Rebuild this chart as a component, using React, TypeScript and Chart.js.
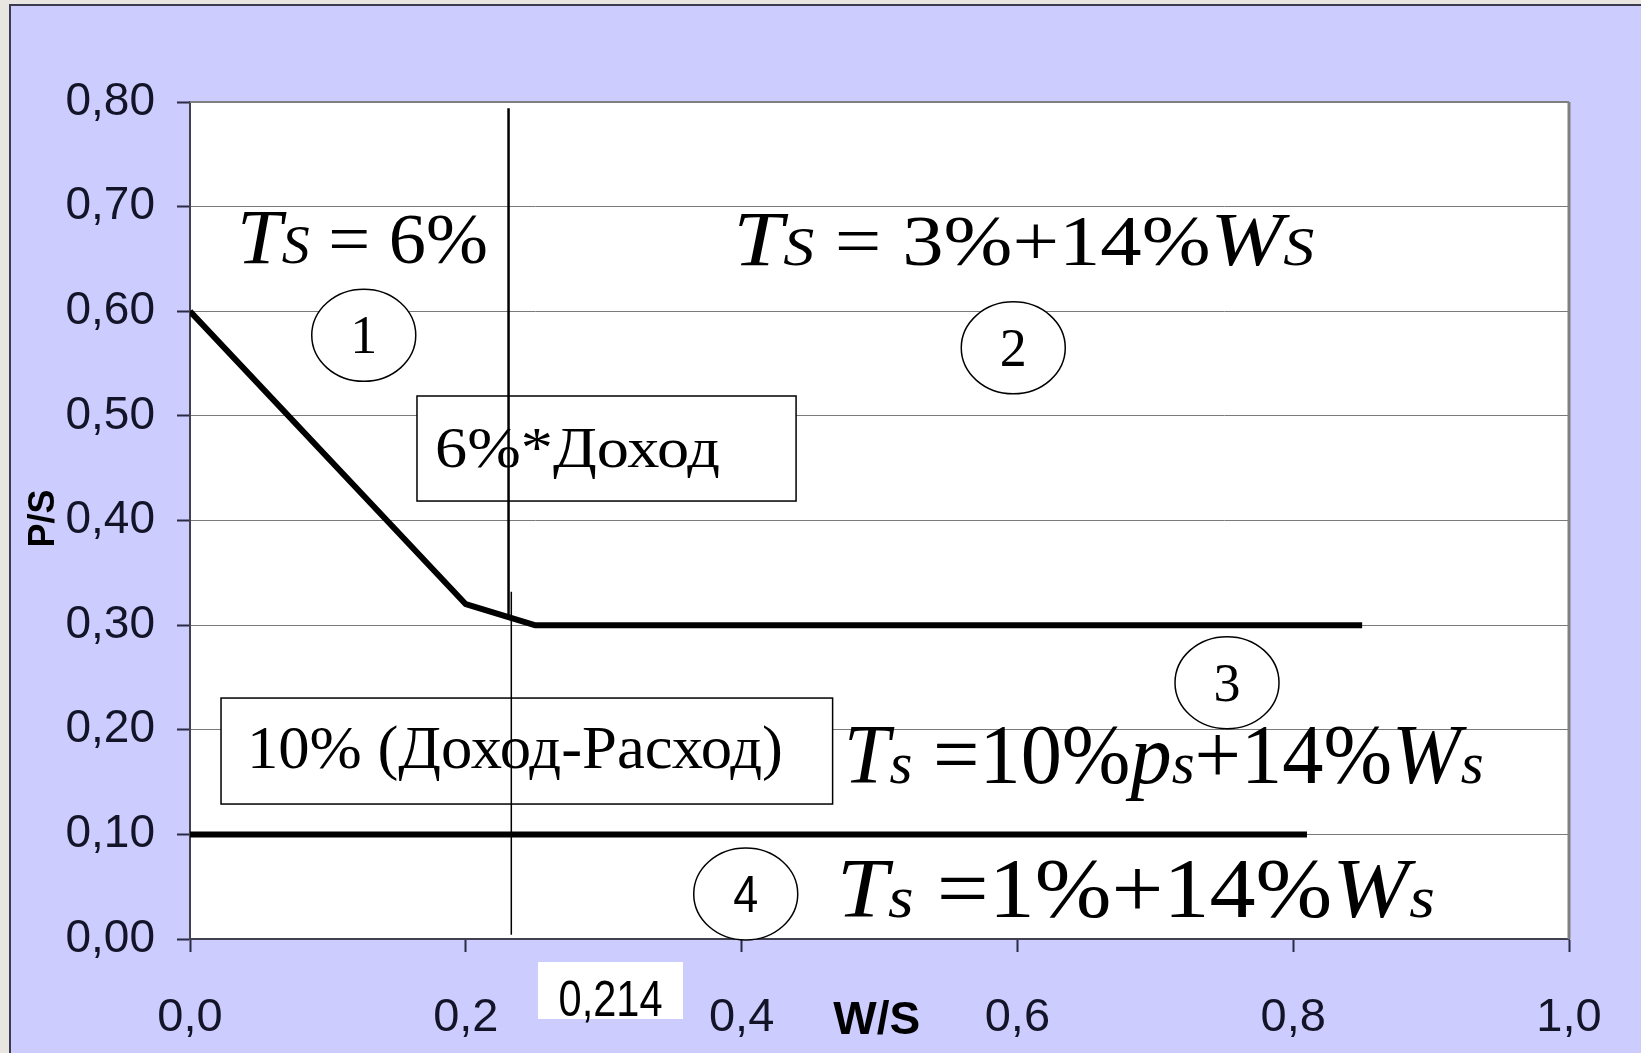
import React, { useEffect, useRef } from 'react';
import { Chart, registerables } from 'chart.js';

Chart.register(...registerables);

// ---------- data ----------
const xTickValues = [0, 0.2, 0.4, 0.6, 0.8, 1.0];
const yTickValues = [0, 0.1, 0.2, 0.3, 0.4, 0.5, 0.6, 0.7, 0.8];

// upper boundary (thick polyline)
const boundaryX = [0, 0.2, 0.25, 0.85];
const boundaryY = [0.6, 0.32, 0.3, 0.3];

// lower boundary (thick horizontal)
const floorX = [0, 0.81];
const floorY = [0.1, 0.1];

// vertical split line (two strokes)
const splitUpperX = [0.231, 0.231];
const splitUpperY = [0.794, 0.306];
const splitLowerX = [0.233, 0.233];
const splitLowerY = [0.332, 0.004];

// zone markers
const zoneLabels = ['1', '2', '3', '4'];
const zoneX = [0.126, 0.597, 0.752, 0.403];
const zoneY = [0.577, 0.565, 0.245, 0.043];

// boxed captions
const boxLabels = ['6%*Доход', '10% (Доход-Расход)'];

const markerLabel = '0,214';
const xTitle = 'W/S';
const yTitle = 'P/S';

// ---------- annotation layout (data units) ----------
const boxLayout = [
  { x0: 0.1646, x1: 0.4395, yTop: 0.519, yBot: 0.4186, tx: 0.1777, ty: 0.451, size: 56, w: 285 },
  { x0: 0.0225, x1: 0.466, yTop: 0.2303, yBot: 0.129, tx: 0.0413, ty: 0.1634, size: 62, w: 536 },
];

type Seg = [string, 'i' | 'n', number];
const equations: { x: number; y: number; base: number; w: number; segs: Seg[] }[] = [
  { x: 0.034, y: 0.646, base: 72, w: 251, segs: [['T', 'i', 1.08], ['S', 'i', 0.75], [' = 6%', 'n', 1]] },
  { x: 0.394, y: 0.644, base: 72, w: 581, segs: [['T', 'i', 1.08], ['S', 'i', 0.75], [' = 3%+14%', 'n', 1], ['W', 'i', 1.05], ['S', 'i', 0.75]] },
  { x: 0.474, y: 0.149, base: 84, w: 640, segs: [['T', 'i', 1], ['s', 'i', 0.72], [' =10%', 'n', 1], ['p', 'i', 1], ['s', 'i', 0.72], ['+14%', 'n', 1], ['W', 'i', 1], ['s', 'i', 0.72]] },
  { x: 0.469, y: 0.021, base: 84, w: 598, segs: [['T', 'i', 1], ['s', 'i', 0.72], [' =1%+14%', 'n', 1], ['W', 'i', 1], ['s', 'i', 0.72]] },
];

const SERIF = '"Liberation Serif", "Times New Roman", serif';
const SANS = '"Liberation Sans", Arial, sans-serif';

function drawRich(ctx: CanvasRenderingContext2D, segs: Seg[], x: number, y: number, base: number, targetW: number) {
  ctx.save();
  ctx.textAlign = 'left';
  ctx.textBaseline = 'alphabetic';
  ctx.fillStyle = '#000';
  const fontOf = (st: string, sc: number) => `${st === 'i' ? 'italic ' : ''}${Math.round(base * sc)}px ${SERIF}`;
  let total = 0;
  const widths = segs.map(([t, st, sc]) => {
    ctx.font = fontOf(st, sc);
    const w = ctx.measureText(t).width;
    total += w;
    return w;
  });
  const sx = targetW / total;
  ctx.translate(x, y);
  ctx.scale(sx, 1);
  let cx = 0;
  segs.forEach(([t, st, sc], i) => {
    ctx.font = fontOf(st, sc);
    ctx.fillText(t, cx, 0);
    cx += widths[i];
  });
  ctx.restore();
}

function drawFit(ctx: CanvasRenderingContext2D, text: string, x: number, y: number, font: string, targetW: number, align: 'left' | 'center') {
  ctx.save();
  ctx.font = font;
  ctx.textBaseline = 'alphabetic';
  ctx.textAlign = 'left';
  const w = ctx.measureText(text).width;
  const sx = targetW / w;
  const startX = align === 'center' ? x - targetW / 2 : x;
  ctx.translate(startX, y);
  ctx.scale(sx, 1);
  ctx.fillText(text, 0, 0);
  ctx.restore();
}

const decorPlugin = {
  id: 'decor',
  beforeDraw(chart: any) {
    const { ctx, chartArea: a, width, height } = chart;
    ctx.save();
    ctx.fillStyle = '#e9e6e1';
    ctx.fillRect(0, 0, width, height);
    ctx.fillStyle = '#3c3c50';
    ctx.fillRect(9, 4, width - 9, height - 4);
    ctx.fillStyle = '#ccccff';
    ctx.fillRect(11, 6, width - 11, height - 6);
    ctx.fillStyle = '#ffffff';
    ctx.fillRect(a.left, a.top, a.right - a.left, a.bottom - a.top);
    ctx.restore();
  },
  beforeDatasetsDraw(chart: any) {
    const { ctx, chartArea: a, scales } = chart;
    const xs = scales.x, ys = scales.y;
    ctx.save();
    // plot frame top/right
    ctx.strokeStyle = '#808080';
    ctx.lineWidth = 2;
    ctx.beginPath();
    ctx.moveTo(a.left, a.top);
    ctx.lineTo(a.right, a.top);
    ctx.stroke();
    ctx.lineWidth = 3;
    ctx.beginPath();
    ctx.moveTo(a.right, a.top);
    ctx.lineTo(a.right, a.bottom);
    ctx.stroke();
    // boxes
    boxLayout.forEach((b, i) => {
      const l = xs.getPixelForValue(b.x0), r = xs.getPixelForValue(b.x1);
      const t = ys.getPixelForValue(b.yTop), bt = ys.getPixelForValue(b.yBot);
      ctx.fillStyle = '#fff';
      ctx.fillRect(l, t, r - l, bt - t);
      ctx.strokeStyle = '#000';
      ctx.lineWidth = 1.5;
      ctx.strokeRect(l, t, r - l, bt - t);
      ctx.fillStyle = '#000';
      drawFit(ctx, boxLabels[i], xs.getPixelForValue(b.tx), ys.getPixelForValue(b.ty), `${b.size}px ${SERIF}`, b.w, 'left');
    });
    ctx.restore();
  },
  afterDatasetsDraw(chart: any) {
    const { ctx, scales } = chart;
    const xs = scales.x, ys = scales.y;
    ctx.save();
    equations.forEach((e) => {
      drawRich(ctx, e.segs, xs.getPixelForValue(e.x), ys.getPixelForValue(e.y), e.base, e.w);
    });
    zoneLabels.forEach((lab, i) => {
      const cx = xs.getPixelForValue(zoneX[i]);
      const cy = ys.getPixelForValue(zoneY[i]);
      ctx.beginPath();
      ctx.ellipse(cx, cy, 52, 46, 0, 0, Math.PI * 2);
      ctx.fillStyle = '#fff';
      ctx.fill();
      ctx.strokeStyle = '#000';
      ctx.lineWidth = 1.5;
      ctx.stroke();
      ctx.fillStyle = '#000';
      if (i === 3) {
        drawFit(ctx, lab, cx, cy + 18, `52px ${SANS}`, 25, 'center');
      } else {
        ctx.textAlign = 'center';
        ctx.textBaseline = 'alphabetic';
        ctx.font = `54px ${SERIF}`;
        ctx.fillText(lab, cx, cy + 18);
      }
    });
    ctx.restore();
  },
  afterDraw(chart: any) {
    const { ctx, chartArea: a, scales } = chart;
    const xs = scales.x;
    ctx.save();
    // marker label under axis
    const l = xs.getPixelForValue(0.2524), r = xs.getPixelForValue(0.3575);
    ctx.fillStyle = '#fff';
    ctx.fillRect(l, a.bottom + 23, r - l, 57);
    ctx.fillStyle = '#000';
    drawFit(ctx, markerLabel, (l + r) / 2, a.bottom + 77, `50px ${SANS}`, 104, 'center');
    // axis titles
    ctx.fillStyle = '#000';
    ctx.font = `bold 46px ${SANS}`;
    ctx.textAlign = 'center';
    ctx.textBaseline = 'middle';
    ctx.fillText(xTitle, xs.getPixelForValue(0.498), a.bottom + 82);
    ctx.save();
    ctx.translate(44, (a.top + a.bottom) / 2 - 2);
    ctx.rotate(-Math.PI / 2);
    ctx.font = `bold 36px ${SANS}`;
    ctx.fillText(yTitle, 0, 0);
    ctx.restore();
    ctx.restore();
  },
};

const toPts = (xs: number[], ys: number[]) => xs.map((x, i) => ({ x, y: ys[i] }));

export default function App() {
  const ref = useRef<HTMLCanvasElement | null>(null);
  useEffect(() => {
    if (!ref.current) return;
    const tickColor = '#141428';
    const chart = new Chart(ref.current, {
      type: 'scatter',
      data: {
        datasets: [
          { data: toPts(floorX, floorY), borderColor: '#000', borderWidth: 6, showLine: true, pointRadius: 0, borderCapStyle: 'butt' },
          { data: toPts(boundaryX, boundaryY), borderColor: '#000', borderWidth: 6, showLine: true, pointRadius: 0, borderCapStyle: 'butt', borderJoinStyle: 'round' },
          { data: toPts(splitUpperX, splitUpperY), borderColor: '#000', borderWidth: 2.5, showLine: true, pointRadius: 0 },
          { data: toPts(splitLowerX, splitLowerY), borderColor: '#000', borderWidth: 1.5, showLine: true, pointRadius: 0 },
        ],
      } as any,
      options: {
        responsive: false,
        animation: false,
        events: [],
        layout: { padding: { left: 0, top: 102, right: 72, bottom: 0 } },
        plugins: { legend: { display: false }, tooltip: { enabled: false }, title: { display: false } },
        scales: {
          x: {
            type: 'linear',
            min: 0,
            max: 1,
            afterBuildTicks: (s: any) => { s.ticks = xTickValues.map((v) => ({ value: v })); },
            afterFit: (s: any) => { s.height = 114; },
            grid: { drawOnChartArea: false, drawTicks: true, tickLength: 13, tickColor: '#2a2a44', tickWidth: 2 },
            border: { display: true, color: '#404050', width: 2 },
            ticks: {
              autoSkip: false,
              maxRotation: 0,
              padding: 38,
              color: tickColor,
              font: { family: SANS, size: 47 },
              callback: (v: any) => Number(v).toFixed(1).replace('.', ','),
            },
          },
          y: {
            type: 'linear',
            min: 0,
            max: 0.8,
            afterBuildTicks: (s: any) => { s.ticks = yTickValues.map((v) => ({ value: v })); },
            afterFit: (s: any) => { s.width = 190; },
            grid: { color: '#7a7a7a', lineWidth: 1, drawTicks: true, tickLength: 13, tickColor: '#2a2a44', tickWidth: 2 },
            border: { display: true, color: '#404050', width: 2 },
            ticks: {
              autoSkip: false,
              padding: 22,
              color: tickColor,
              font: { family: SANS, size: 46 },
              callback: (v: any) => Number(v).toFixed(2).replace('.', ','),
            },
          },
        },
      } as any,
      plugins: [decorPlugin],
    });
    return () => chart.destroy();
  }, []);
  return (
    <div style={{ position: 'fixed', left: 0, top: 0, width: 1641, height: 1053, overflow: 'hidden' }}>
      <canvas ref={ref} width={1641} height={1053} style={{ display: 'block', width: 1641, height: 1053 }} />
    </div>
  );
}
